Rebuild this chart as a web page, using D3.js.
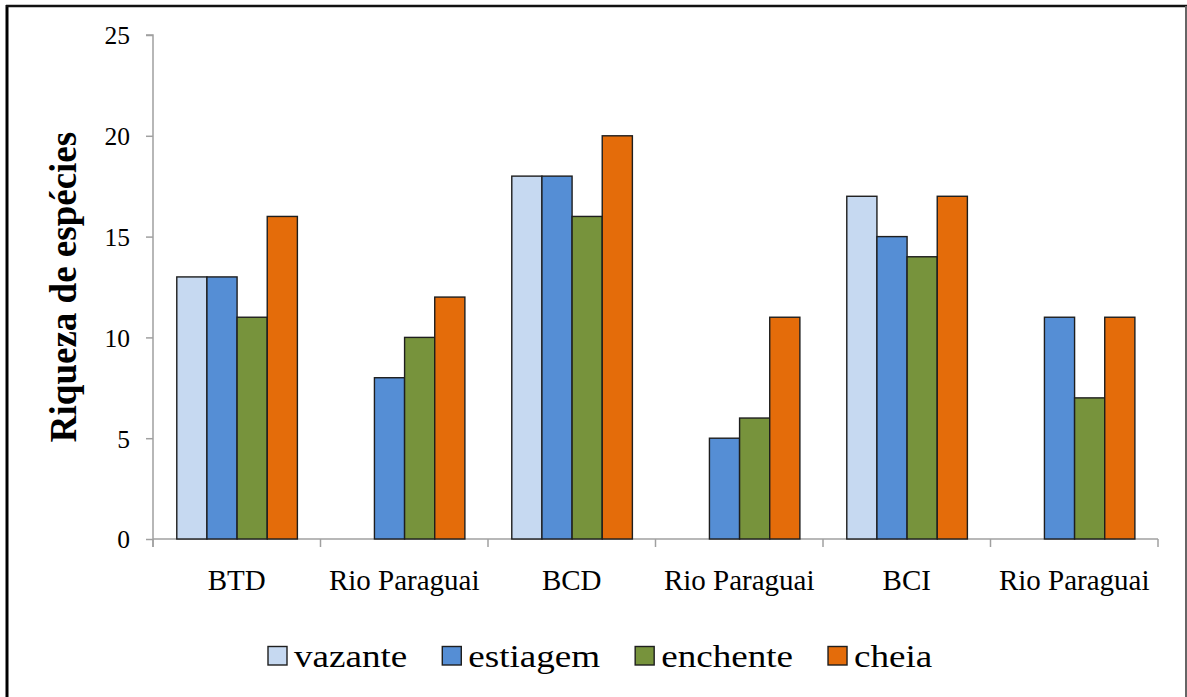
<!DOCTYPE html>
<html><head><meta charset="utf-8">
<script src="https://cdn.jsdelivr.net/npm/d3@7"></script>
<style>html,body{margin:0;padding:0;background:#fff;overflow:hidden}</style>
</head><body>
<svg id="c" width="1187" height="697"></svg>
<script>
const categories = ["BTD", "Rio Paraguai", "BCD", "Rio Paraguai", "BCI", "Rio Paraguai"];
const series = ["vazante", "estiagem", "enchente", "cheia"];
const colors = ["#c6d9f1", "#558ed5", "#77933c", "#e46c0a"];
const vazante  = [13, null, 18, null, 17, null];
const estiagem = [13, 8, 18, 5, 15, 11];
const enchente = [11, 10, 16, 6, 14, 7];
const cheia    = [16, 12, 20, 11, 17, 11];
const yTicks = [0, 5, 10, 15, 20, 25];
const yTitle = "Riqueza de espécies";

const values = [vazante, estiagem, enchente, cheia];
const svg = d3.select("#c");
const serif = "'Liberation Serif','Times New Roman',serif";

// frame
svg.append("line").attr("x1",7).attr("x2",7).attr("y1",5).attr("y2",697).attr("stroke","#000").attr("stroke-width",3);
svg.append("line").attr("x1",6).attr("x2",1187).attr("y1",6).attr("y2",6).attr("stroke","#111").attr("stroke-width",2.5);
svg.append("line").attr("x1",1186).attr("x2",1186).attr("y1",6).attr("y2",697).attr("stroke","#666").attr("stroke-width",2);

const x0 = 153, x1 = 1158, yTop = 35, yBot = 539;
const x = d3.scaleBand().domain(d3.range(categories.length)).range([x0, x1]).padding(0);
const bw = x.bandwidth();
const xs = d3.scaleBand().domain(series).range([bw*0.142, bw*0.862]).padding(0);
const y = d3.scaleLinear().domain([0, 25]).range([yBot, yTop]);

const axisColor = "#a0a0a0";
// y axis
const ya = svg.append("g").attr("transform", `translate(${x0},0)`)
  .call(d3.axisLeft(y).tickValues(yTicks).tickSize(7).tickPadding(16).tickFormat(d3.format("d")));
ya.select(".domain").attr("stroke", axisColor).attr("stroke-width",1.5).attr("d", `M-7,${yTop}H0V${yBot+8}`);
ya.selectAll(".tick line").attr("stroke", axisColor).attr("stroke-width",1.5);
ya.selectAll(".tick text").attr("font-family", serif).attr("font-size", 25.5).attr("fill","#000").attr("dy","0.35em");

// x axis
const xa = svg.append("g").attr("transform", `translate(0,${yBot})`);
xa.append("line").attr("x1", x0).attr("x2", x1).attr("y1",0).attr("y2",0).attr("stroke", axisColor).attr("stroke-width",1.5);
const bounds = d3.range(categories.length + 1).map(i => i < categories.length ? x(i) : x1);
xa.selectAll(".xt").data(bounds).join("line").attr("class","xt")
  .attr("x1", d=>d).attr("x2", d=>d).attr("y1",0).attr("y2",8).attr("stroke", axisColor).attr("stroke-width",1.5);
xa.selectAll(".xl").data(categories).join("text").attr("class","xl")
  .attr("x", (d,i)=> x(i) + bw/2).attr("y", 51).attr("text-anchor","middle")
  .attr("font-family", serif).attr("font-size", 29).attr("fill","#000").text(d=>d);

// bars
series.forEach((s, si) => {
  svg.append("g").selectAll("rect").data(values[si].map((v,i)=>({v,i})).filter(d=>d.v!=null)).join("rect")
    .attr("x", d => x(d.i) + xs(s))
    .attr("y", d => y(d.v))
    .attr("width", xs.bandwidth())
    .attr("height", d => y(0) - y(d.v))
    .attr("fill", colors[si])
    .attr("stroke", "#1e1e1e").attr("stroke-width", 1.4);
});

// y title
svg.append("text").attr("transform", `translate(76,${(yTop+yBot)/2}) rotate(-90)`)
  .attr("text-anchor","middle").attr("font-family", serif).attr("font-weight","bold")
  .attr("font-size", 37).attr("fill","#000").text(yTitle);

// legend
const lg = svg.append("g");
const stretch = 1.16;
let lx = 268;
series.forEach((s, si) => {
  lg.append("rect").attr("x", lx).attr("y", 646.5).attr("width", 19).attr("height", 18.5)
    .attr("fill", colors[si]).attr("stroke","#1e1e1e").attr("stroke-width",1.4);
  const t = lg.append("text").attr("transform", `translate(${lx + 26},667) scale(${stretch},1)`)
    .attr("font-family", serif).attr("font-size", 32).attr("fill","#000").text(s);
  lx = lx + 26 + t.node().getComputedTextLength() * stretch + 35;
});
</script>
</body></html>
